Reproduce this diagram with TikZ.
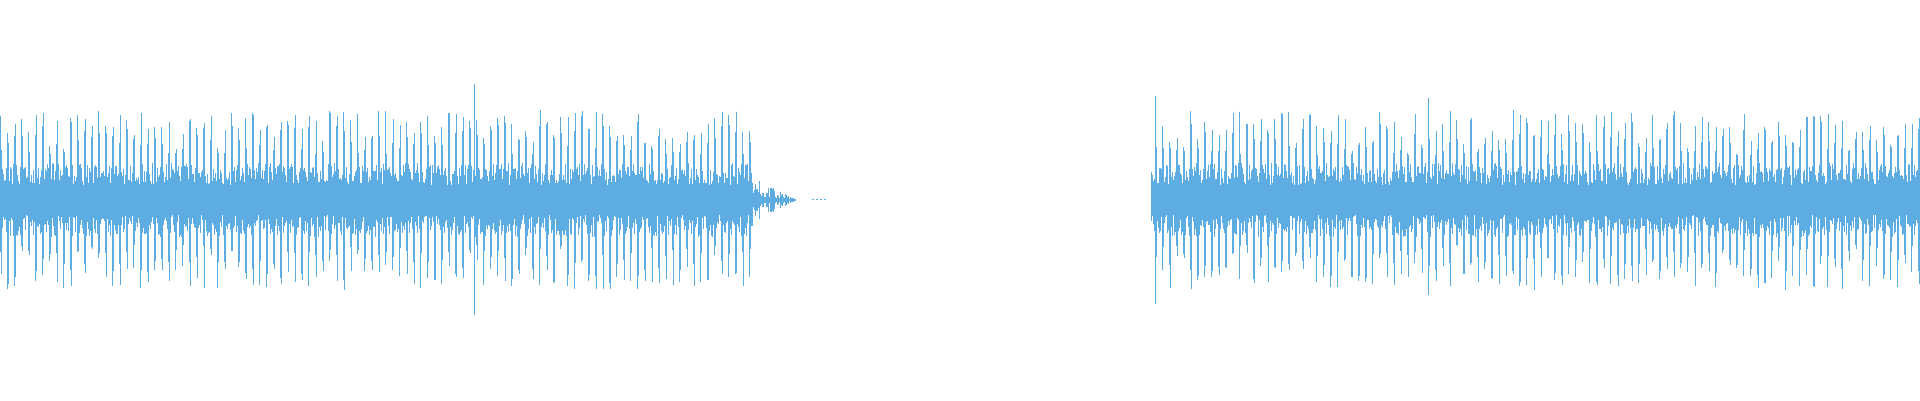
\documentclass[tikz,border=0pt]{standalone}
\definecolor{wave}{RGB}{93,172,226}
\begin{document}
\begin{tikzpicture}[x=1pt,y=1pt,wv/.style={draw=wave,line width=0.7pt}]
\useasboundingbox (0,0) rectangle (1920,400);
\pgfmathsetseed{7}
\foreach \x in {0,...,752}{
  \pgfmathsetmacro\a{mod(\x,7)<2 ? 45+45*rnd : 15+22*rnd}
  \pgfmathsetmacro\b{mod(\x,7)<2 ? 45+45*rnd : 15+22*rnd}
  \draw[wv] (\x,200+\a) -- (\x,200-\b);
}
\foreach \x in {1151,...,1919}{
  \pgfmathsetmacro\a{mod(\x,7)<2 ? 45+45*rnd : 15+22*rnd}
  \pgfmathsetmacro\b{mod(\x,7)<2 ? 45+45*rnd : 15+22*rnd}
  \draw[wv] (\x,200+\a) -- (\x,200-\b);
}
\foreach \x in {753,...,795}{
  \pgfmathsetmacro\a{(2+20*rnd)*(795-\x)/42+1}
  \draw[wv] (\x,200+\a) -- (\x,200-\a);
}
\draw[wv] (474,316) -- (474,85);
\draw[wv] (1155,304) -- (1155,96);
\draw[wv] (1428,302) -- (1428,105);
\foreach \x in {812,816,820,824}{\draw[wv] (\x,200.5) -- (\x+2,200.5);}
\end{tikzpicture}
\end{document}
